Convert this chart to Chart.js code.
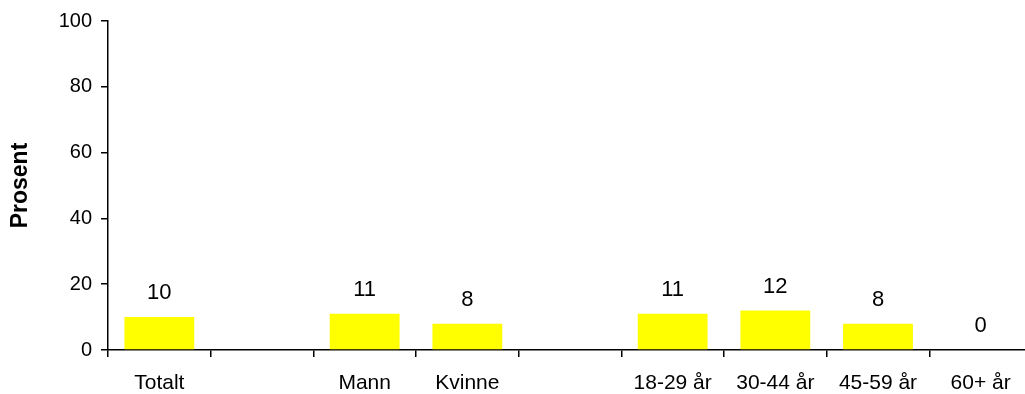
<!DOCTYPE html>
<html>
<head>
<meta charset="utf-8">
<script src="https://cdn.jsdelivr.net/npm/chart.js@4/dist/chart.umd.min.js"></script>
<style>
    html, body { margin: 0; padding: 0; background: #fff; overflow: hidden; }
    #wrap { width: 1040px; height: 394px; }
</style>
</head>
<body>
<div id="wrap"><canvas id="chart" width="1040" height="394"></canvas></div>
<script>
// Categories (blank slots separate the groups)
const categories = ['Totalt', '', 'Mann', 'Kvinne', '', '18-29 år', '30-44 år', '45-59 år', '60+ år'];
const values = [10, null, 11, 8, null, 11, 12, 8, 0];
const yTicks = [0, 20, 40, 60, 80, 100];

const FONT = "'Liberation Sans', Arial, sans-serif";

// Value labels above each bar
const valueLabels = {
    id: 'valueLabels',
    afterDatasetsDraw(chart) {
        const ctx = chart.ctx;
        const meta = chart.getDatasetMeta(0);
        ctx.save();
        ctx.font = '22px ' + FONT;
        ctx.fillStyle = '#000';
        ctx.textAlign = 'center';
        ctx.textBaseline = 'middle';
        meta.data.forEach((bar, i) => {
            const v = values[i];
            if (v === null) return;
            ctx.fillText(String(v), bar.x, bar.y - 24);
        });
        ctx.restore();
    }
};

new Chart(document.getElementById('chart'), {
    type: 'bar',
    data: {
        labels: categories,
        datasets: [{
            data: values,
            backgroundColor: '#ffff00',
            borderWidth: 0,
            barPercentage: 0.68,
            categoryPercentage: 1
        }]
    },
    options: {
        responsive: false,
        animation: false,
        layout: { padding: { top: 21, left: 0, right: 8, bottom: 0 } },
        plugins: {
            legend: { display: false },
            tooltip: { enabled: false }
        },
        scales: {
            x: {
                grid: { display: true, drawOnChartArea: false, tickLength: 7, color: '#000', lineWidth: 1.5, offset: true },
                border: { color: '#000', width: 1.5 },
                ticks: { color: '#000', font: { family: FONT, size: 21 }, padding: 14, maxRotation: 0, autoSkip: false },
                afterFit(scale) { scale.height = 44; }
            },
            y: {
                min: 0,
                max: 100,
                afterBuildTicks(scale) { scale.ticks = yTicks.map(v => ({ value: v })); },
                grid: { display: true, drawOnChartArea: false, tickLength: 7, color: '#000', lineWidth: 1.5 },
                border: { color: '#000', width: 1.5 },
                ticks: { color: '#000', font: { family: FONT, size: 20 }, padding: 9 },
                title: { display: true, text: 'Prosent', color: '#000', font: { family: FONT, size: 23, weight: 'bold' }, padding: { top: 7, bottom: 0 } },
                afterFit(scale) { scale.width = 108; }
            }
        }
    },
    plugins: [valueLabels]
});
</script>
</body>
</html>
